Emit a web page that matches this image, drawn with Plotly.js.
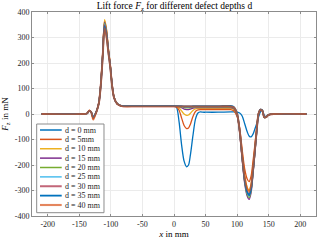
<!DOCTYPE html>
<html>
<head>
<meta charset="utf-8">
<script src="https://cdn.plot.ly/plotly-3.0.1.min.js"></script>
<style>html,body{margin:0;padding:0;background:#fff;}#chart{width:320px;height:240px;}</style>
</head>
<body>
<div id="chart"></div>
<script>
// Position x in mm (shared sampling of all curves)
const xs = [-210, -145, -138, -134, -131, -128, -125, -122, -119, -116, -113, -110, -107, -104, -101, -98, -95, -90, -85, -80, -60, -30,
  0, 4, 8, 12, 16, 20, 23, 26, 30, 34, 38, 42, 46, 50, 70, 90,
  95, 100, 104, 108, 112, 116, 119, 122, 125, 128, 131, 134, 137, 140, 143, 146, 150, 160, 210];

// Lift force Fz in mN for each defect depth
const d0 = [0, 0, 2, 13, 6, -12, -2, 16, 45, 115, 228, 350, 315, 248, 188, 111, 65, 40, 33, 30, 30, 30,
  30, 26, -30, -120, -185, -207, -200, -160, -85, -20, 4, 8, 7, 7, 7, 8,
  8, 7, 4, -8, -38, -70, -86, -90, -80, -60, -38, -12, 8, 15, -5, -10, -3, 0, 0];
const d5 = [0, 0, 2, 14, 6, -20, -4, 16, 46, 118, 236, 365, 330, 256, 193, 113, 66, 40, 33, 30, 30, 30,
  30, 28, 15, -15, -45, -57, -55, -40, -10, 10, 16, 17, 17, 17, 17, 17,
  12, -10, -55, -140, -215, -255, -265, -245, -190, -125, -55, 3, 16, 12, -12, -12, -3, 0, 0];
const d10 = [0, 0, 2, 14, 6, -16, -3, 16, 46, 119, 238, 370, 334, 258, 194, 113, 66, 40, 33, 30, 30, 30,
  30, 30, 25, 12, 0, -5, -4, 3, 14, 20, 22, 22, 22, 22, 22, 22,
  18, -5, -62, -158, -243, -288, -300, -277, -215, -141, -62, 2, 17, 13, -13, -12, -3, 0, 0];
const d15 = [0, 0, 2, 13, 6, -14, -2, 16, 45, 117, 234, 360, 325, 252, 190, 112, 65, 40, 33, 30, 30, 30,
  30, 30, 29, 25, 19, 17, 17, 19, 23, 25, 25, 25, 25, 25, 25, 25,
  21, -3, -70, -177, -272, -322, -335, -310, -240, -158, -70, 0, 18, 14, -14, -13, -3, 0, 0];
const d20 = [0, 0, 2, 13, 6, -15, -3, 16, 45, 116, 231, 356, 321, 250, 189, 111, 65, 40, 33, 30, 30, 30,
  30, 30, 30, 28, 25, 24, 24, 25, 26, 27, 27, 27, 27, 27, 27, 27,
  23, -2, -68, -173, -266, -316, -328, -303, -235, -155, -68, 1, 18, 14, -14, -13, -3, 0, 0];
const d25 = [0, 0, 2, 13, 6, -14, -2, 16, 45, 115, 229, 352, 317, 248, 188, 111, 65, 40, 33, 30, 30, 30,
  30, 30, 30, 29, 28, 27, 27, 27, 28, 28, 28, 28, 28, 28, 28, 28,
  24, -1, -67, -170, -261, -310, -322, -298, -231, -152, -67, 1, 17, 13, -13, -12, -3, 0, 0];
const d30 = [0, 0, 2, 13, 6, -16, -3, 16, 44, 114, 227, 348, 313, 246, 187, 110, 64, 40, 33, 30, 30, 30,
  30, 30, 30, 30, 29, 29, 29, 29, 29, 29, 29, 29, 29, 29, 29, 29,
  25, 0, -66, -168, -258, -306, -318, -294, -228, -150, -66, 1, 17, 13, -13, -12, -3, 0, 0];
const d35 = [0, 0, 2, 13, 6, -14, -2, 16, 44, 113, 224, 342, 307, 243, 185, 110, 64, 40, 33, 31, 31, 31,
  31, 31, 31, 31, 30, 30, 30, 30, 31, 31, 31, 31, 31, 31, 31, 32,
  27, 2, -64, -166, -256, -305, -318, -294, -228, -150, -66, 1, 17, 13, -13, -12, -3, 0, 0];
const d40 = [0, 0, 2, 14, 6, -22, -5, 15, 43, 112, 221, 336, 301, 240, 183, 109, 64, 40, 33, 30, 30, 30,
  30, 30, 30, 30, 30, 30, 30, 30, 30, 30, 30, 30, 30, 30, 30, 30,
  26, 1, -63, -161, -247, -293, -305, -282, -218, -144, -63, 2, 16, 12, -13, -12, -3, 0, 0];

const seriesNames = ['d = 0 mm', 'd = 5mm', 'd = 10 mm', 'd = 15 mm', 'd = 20 mm', 'd = 25 mm', 'd = 30 mm', 'd = 35 mm', 'd = 40 mm'];
const seriesValues = [d0, d5, d10, d15, d20, d25, d30, d35, d40];

const xTickVals = [-200, -150, -100, -50, 0, 50, 100, 150, 200];
const xTickText = ['-200', '-150', '-100', '-50', '0', '50', '100', '150', '200'];
const yTickVals = [-400, -300, -200, -100, 0, 100, 200, 300, 400];
const yTickText = ['-400', '-300', '-200', '-100', '0', '100', '200', '300', '400'];

const colors = ['#0072BD', '#D95319', '#EDB120', '#7E2F8E', '#77AC30', '#4DBEEE', 'rgba(162,20,47,0.65)', '#0072BD', 'rgba(217,83,25,0.7)'];
const widths = [1.3, 1.3, 1.3, 1.3, 1.3, 1.3, 1.8, 1.6, 1.9];

const serif = 'Liberation Serif, DejaVu Serif, serif';
const txt = '#262626';

const traces = seriesValues.map((v, i) => ({
  type: 'scatter', mode: 'lines', x: xs, y: v, name: seriesNames[i],
  line: {color: colors[i], width: widths[i], shape: 'spline', smoothing: 0.8},
  showlegend: false, hoverinfo: 'skip'
}));

// manual legend (box + samples + labels) in paper coordinates
const plotTop = 12, plotH = 204;
const toPaperY = py => (plotTop + plotH - py) / plotH;
const shapes = [{
  type: 'rect', xref: 'paper', yref: 'paper', x0: 0.0165, x1: 0.2535, y0: toPaperY(212.7), y1: toPaperY(124),
  fillcolor: '#ffffff', line: {color: '#8c8c8c', width: 1}, layer: 'above'
}];
const annotations = [];
seriesNames.forEach((n, i) => {
  const yy = toPaperY(130 + 9.375 * i);
  shapes.push({type: 'line', xref: 'paper', yref: 'paper', x0: 0.0282, x1: 0.1046, y0: yy, y1: yy,
    line: {color: colors[i], width: widths[i] + 0.2}, layer: 'above'});
  annotations.push({xref: 'paper', yref: 'paper', x: 0.108, y: yy, xanchor: 'left', yanchor: 'middle',
    text: n, showarrow: false, font: {family: serif, size: 8, color: txt}});
});

const axisCommon = {
  showline: true, linecolor: '#8c8c8c', linewidth: 1, mirror: 'ticks',
  ticks: 'inside', ticklen: 2, tickcolor: '#8c8c8c',
  showgrid: true, gridcolor: '#ebebeb', gridwidth: 1, zeroline: false,
  tickfont: {family: serif, size: 8, color: txt}, tickmode: 'array'
};

const layout = {
  width: 320, height: 240,
  margin: {l: 32, r: 4, t: 12, b: 24, pad: 0},
  paper_bgcolor: '#ffffff', plot_bgcolor: '#ffffff',
  title: {text: 'Lift force <i>F</i><sub>z</sub> for different defect depths d', font: {family: serif, size: 9.5, color: '#000'},
    x: 0.545, xref: 'container', y: 0.978, yref: 'container', yanchor: 'middle'},
  xaxis: Object.assign({}, axisCommon, {range: [-225, 225], tickvals: xTickVals, ticktext: xTickText,
    title: {text: '<i>x</i> in mm', font: {family: serif, size: 9, color: '#000'}, standoff: 2}}),
  yaxis: Object.assign({}, axisCommon, {range: [-400, 400], tickvals: yTickVals, ticktext: yTickText,
    title: {text: '<i>F</i><sub>z</sub> in mN', font: {family: serif, size: 9, color: '#000'}, standoff: 4}}),
  shapes: shapes, annotations: annotations, showlegend: false
};

Plotly.newPlot('chart', traces, layout, {staticPlot: true, displayModeBar: false});
</script>
</body>
</html>
